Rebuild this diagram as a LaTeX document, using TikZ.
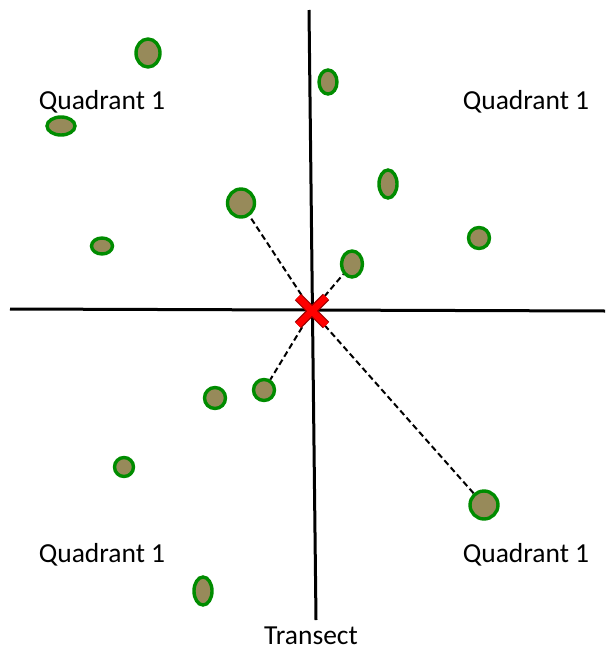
\documentclass[tikz,border=0pt]{standalone}
\usepackage{fontspec}
\setmainfont{Carlito}
\begin{document}
\begin{tikzpicture}[x=1pt,y=-1pt,
  plant/.style={ellipse, draw=green!55!black, line width=3.4pt, fill=olivefill, inner sep=0pt},
  lbl/.style={font=\fontsize{27.5}{30}\selectfont, inner sep=0pt},
  axis/.style={line width=3pt, black},
  dist/.style={line width=2pt, dash pattern=on 6pt off 3.5pt}]
\usetikzlibrary{shapes.geometric}
\definecolor{olivefill}{HTML}{978A5A}
\useasboundingbox (0,0) rectangle (605,653);
% axes
\coordinate (vt) at (309,10);
\coordinate (vb) at (316,620);
\coordinate (hl) at (10,309);
\coordinate (hr) at (605,311);
\draw[axis] (vt) -- (vb);
\draw[axis] (hl) -- (hr);
\coordinate (c) at (312,311);
% plants
\node[plant, minimum width=24pt, minimum height=28pt] (p1) at (148,53) {};
\node[plant, minimum width=28pt, minimum height=18pt] (p2) at (61,126) {};
\node[plant, minimum width=18pt, minimum height=24pt] (p3) at (328,82) {};
\node[plant, minimum width=18pt, minimum height=28pt] (p4) at (388,184) {};
\node[plant, minimum width=27pt, minimum height=28pt] (p5) at (241,203) {};
\node[plant, minimum width=21pt, minimum height=16pt] (p6) at (102,246) {};
\node[plant, minimum width=21pt, minimum height=21pt] (p7) at (479,238) {};
\node[plant, minimum width=21pt, minimum height=26pt] (p8) at (352,264) {};
\node[plant, minimum width=21pt, minimum height=21pt] (p9) at (215,398) {};
\node[plant, minimum width=21pt, minimum height=21pt] (p10) at (264,390) {};
\node[plant, minimum width=19pt, minimum height=19pt] (p11) at (124,467) {};
\node[plant, minimum width=28pt, minimum height=28pt] (p12) at (484,505) {};
\node[plant, minimum width=18pt, minimum height=28pt] (p13) at (203,591) {};
% distances
\draw[dist] (c) -- (p5);
\draw[dist] (c) -- (p8);
\draw[dist] (c) -- (p10);
\draw[dist] (c) -- (p12);
% cross
\coordinate (x1) at (298,297);
\coordinate (x2) at (326,325);
\coordinate (x3) at (326,297);
\coordinate (x4) at (298,325);
\draw[line width=9pt, red!60!black] (x1) -- (x2) (x3) -- (x4);
\draw[line width=6.5pt, red] (x1) -- (x2) (x3) -- (x4);
\draw[line width=6.5pt, red, shorten <=1pt, shorten >=1pt] (x1) -- (x2);
% labels
\node[lbl] (q1) at (102,102) {Quadrant 1};
\node[lbl] (q2) at (526,102) {Quadrant 1};
\node[lbl] (q3) at (102,555) {Quadrant 1};
\node[lbl] (q4) at (526,555) {Quadrant 1};
\node[lbl] (t) at (311,636) {Transect};
\end{tikzpicture}
\end{document}
